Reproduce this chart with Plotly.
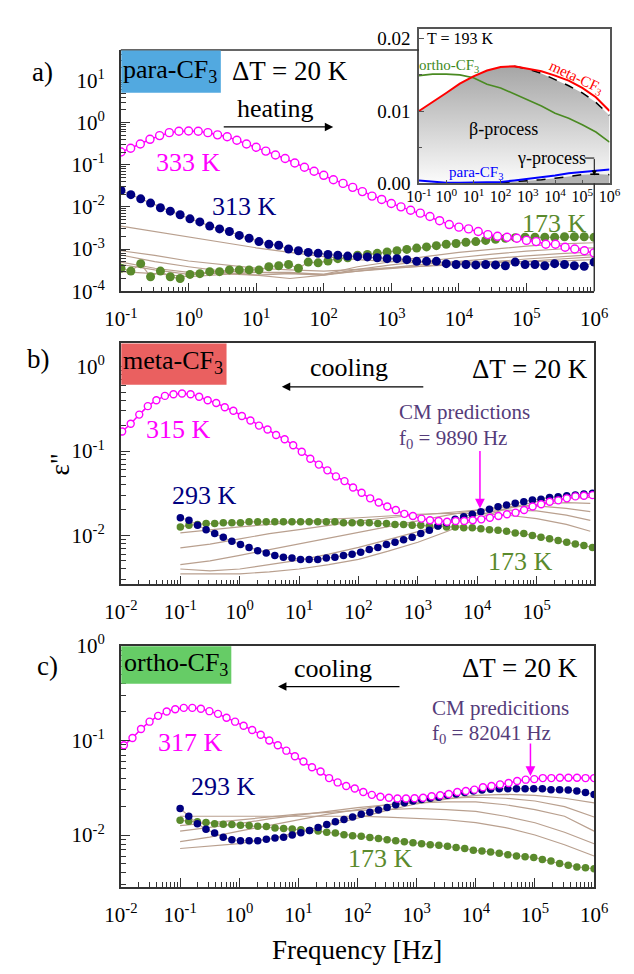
import numpy as np
import plotly.graph_objects as go

W, H = 634, 974
SERIF = "Liberation Serif"
AX = "#333333"
MAG = "#ff00ff"
NAVY = "#000080"
GRN = "#5a8a2c"
BRN = "#b9a08f"
PURP = "#553c7a"

def px(x):
    return x / W

def py(y):
    return 1 - y / H

# ---------------- data: panel a (para-CF3, heating) ----------------
f_a_333 = np.logspace(-1, 6, 50)
eps_a_333 = [0.20, 0.245, 0.31, 0.40, 0.49, 0.575, 0.62, 0.63, 0.62, 0.575,
             0.51, 0.46, 0.38, 0.31, 0.26, 0.21, 0.17, 0.14, 0.11, 0.087,
             0.070, 0.056, 0.044, 0.036, 0.029, 0.023, 0.018, 0.015, 0.012, 0.010,
             0.0083, 0.0071, 0.0059, 0.0047, 0.0038, 0.0033, 0.0030, 0.0026, 0.0022, 0.0020,
             0.0019, 0.0018, 0.0016, 0.0015, 0.0013, 0.0013, 0.0011, 0.0010, 0.00091, 0.00081]
f_a_pts = np.logspace(-1, 6, 49)
eps_a_313 = [0.0245, 0.0195, 0.0155, 0.0123, 0.0095, 0.0079, 0.0065, 0.0052, 0.0044, 0.0035,
             0.0030, 0.0026, 0.0021, 0.0018, 0.0015, 0.0013, 0.00123, 0.0010, 0.00091, 0.00083,
             0.00079, 0.00074, 0.00071, 0.00068, 0.00066, 0.00065, 0.00062, 0.00059, 0.00059, 0.00056,
             0.00051, 0.00051, 0.00051, 0.00045, 0.00043, 0.00043, 0.00042, 0.00043, 0.00042, 0.00040,
             0.00049, 0.00043, 0.00043, 0.00040, 0.00045, 0.00043, 0.00040, 0.00039, 0.00049]
eps_a_173 = [0.00035, 0.00030, 0.00045, 0.00022, 0.00030, 0.00022, 0.00020, 0.00025, 0.00026, 0.00029,
             0.00029, 0.00032, 0.00032, 0.00032, 0.00032, 0.00038, 0.00040, 0.00043, 0.00035, 0.00049,
             0.00047, 0.00052, 0.00059, 0.00062, 0.00071, 0.00074, 0.00079, 0.00085, 0.00091, 0.00098,
             0.00105, 0.00112, 0.0012, 0.0013, 0.00135, 0.00145, 0.0015, 0.0016, 0.0017, 0.0018,
             0.00186, 0.0019, 0.0019, 0.0019, 0.0019, 0.00195, 0.00195, 0.00195, 0.0019]
f_a_lines = [0.1, 0.316, 1, 3.16, 10, 31.6, 100, 316, 1e3, 3.16e3, 1e4, 3.16e4, 1e5, 3.16e5, 1e6]
eps_a_293 = [3.5e-3, 2.6e-3, 1.9e-3, 1.4e-3, 1.07e-3, 8.3e-4, 6.6e-4, 5.6e-4, 5.0e-4, 4.8e-4, 4.8e-4, 4.9e-4, 5.0e-4, 5.2e-4, 5.6e-4]
eps_a_273 = [9.1e-4, 7.1e-4, 5.2e-4, 4.2e-4, 3.5e-4, 3.2e-4, 3.0e-4, 3.3e-4, 3.6e-4, 4.0e-4, 4.3e-4, 4.7e-4, 5.1e-4, 5.8e-4, 6.5e-4]
eps_a_253 = [7.2e-4, 5.0e-4, 3.8e-4, 3.0e-4, 2.8e-4, 2.6e-4, 2.5e-4, 3.0e-4, 3.5e-4, 4.0e-4, 4.5e-4, 5.0e-4, 5.8e-4, 6.6e-4, 7.4e-4]
eps_a_233 = [4.9e-4, 3.5e-4, 2.8e-4, 2.6e-4, 2.4e-4, 2.0e-4, 2.4e-4, 3.0e-4, 3.7e-4, 4.4e-4, 5.1e-4, 6.0e-4, 6.9e-4, 7.8e-4, 8.5e-4]
eps_a_213 = [4.3e-4, 3.2e-4, 2.5e-4, 2.8e-4, 2.4e-4, 2.6e-4, 2.4e-4, 3.3e-4, 4.2e-4, 5.2e-4, 6.3e-4, 7.6e-4, 8.9e-4, 1.0e-3, 1.07e-3]
eps_a_193 = [2.9e-4, 2.6e-4, 2.2e-4, 2.5e-4, 2.8e-4, 2.8e-4, 2.5e-4, 3.8e-4, 5.0e-4, 6.6e-4, 8.3e-4, 1.0e-3, 1.17e-3, 1.32e-3, 1.41e-3]

# ---------------- data: panel b (meta-CF3, cooling) ----------------
f_b_315 = np.logspace(-1.98, 5.94, 56)
eps_b_315 = [0.17, 0.21, 0.27, 0.34, 0.40, 0.45, 0.47, 0.48, 0.47, 0.44,
             0.40, 0.37, 0.33, 0.30, 0.26, 0.23, 0.20, 0.18, 0.155, 0.138,
             0.117, 0.098, 0.081, 0.069, 0.059, 0.050, 0.044, 0.037, 0.032, 0.0275,
             0.0245, 0.022, 0.020, 0.018, 0.017, 0.0158, 0.0151, 0.0148, 0.0145, 0.0148,
             0.0148, 0.0151, 0.0155, 0.0162, 0.017, 0.0178, 0.0186, 0.020, 0.022, 0.0234,
             0.025, 0.026, 0.0275, 0.029, 0.0295, 0.030]
f_b_pts = np.logspace(-1, 5.94, 49)
eps_b_293 = [0.0162, 0.0151, 0.0132, 0.0117, 0.0105, 0.0095, 0.0085, 0.0078, 0.0072, 0.0066,
             0.0062, 0.0058, 0.0055, 0.0054, 0.0052, 0.0052, 0.0052, 0.0054, 0.0055, 0.0058,
             0.0060, 0.0063, 0.0068, 0.0072, 0.0078, 0.0083, 0.0089, 0.0095, 0.0105, 0.0115,
             0.0129, 0.0141, 0.0155, 0.0166, 0.0178, 0.0191, 0.0204, 0.0219, 0.0229, 0.024,
             0.025, 0.0263, 0.0269, 0.0282, 0.0288, 0.0295, 0.0302, 0.0309, 0.0316]
eps_b_173 = [0.0126, 0.0132, 0.0135, 0.0138, 0.0138, 0.0141, 0.0141, 0.0141, 0.0145, 0.0145,
             0.0145, 0.0145, 0.0145, 0.0145, 0.0145, 0.0145, 0.0145, 0.0145, 0.0145, 0.0141,
             0.0141, 0.0141, 0.0141, 0.0138, 0.0138, 0.0135, 0.0135, 0.0132, 0.0132, 0.0129,
             0.0129, 0.0126, 0.0126, 0.0123, 0.0123, 0.0120, 0.0117, 0.0115, 0.0112, 0.0107,
             0.0105, 0.0100, 0.0095, 0.0091, 0.0087, 0.0083, 0.0079, 0.0076, 0.0072]
f_b_lines = [0.1, 0.316, 1, 3.16, 10, 31.6, 100, 316, 1e3, 3.16e3, 1e4, 3.16e4, 1e5, 3.16e5, 8e5]
eps_b_193 = [0.0107, 0.0117, 0.0126, 0.0135, 0.0145, 0.0155, 0.0162, 0.0170, 0.0178, 0.0182, 0.0182, 0.0174, 0.0158, 0.0135, 0.0112]
eps_b_213 = [0.0071, 0.0079, 0.0091, 0.0105, 0.0117, 0.0132, 0.0148, 0.0162, 0.0174, 0.0186, 0.0200, 0.0200, 0.0195, 0.0174, 0.0151]
eps_b_233 = [0.0045, 0.0050, 0.0058, 0.0068, 0.0079, 0.0093, 0.0110, 0.0129, 0.0151, 0.0174, 0.0200, 0.0219, 0.0224, 0.0209, 0.0191]
eps_b_253 = [0.0040, 0.0038, 0.0040, 0.0045, 0.0051, 0.0060, 0.0072, 0.0089, 0.0110, 0.0138, 0.0174, 0.0209, 0.0234, 0.0245, 0.0240]
eps_b_273 = [0.0035, 0.0035, 0.0035, 0.0037, 0.0040, 0.0045, 0.0052, 0.0065, 0.0083, 0.0112, 0.0158, 0.0209, 0.0251, 0.0275, 0.0282]

# ---------------- data: panel c (ortho-CF3, cooling) ----------------
f_c_317 = np.logspace(-1.95, 6, 56)
eps_c_317 = [0.089, 0.106, 0.132, 0.158, 0.182, 0.202, 0.214, 0.221, 0.221, 0.216,
             0.204, 0.191, 0.174, 0.158, 0.143, 0.129, 0.115, 0.100, 0.089, 0.078,
             0.068, 0.060, 0.052, 0.047, 0.040, 0.036, 0.033, 0.031, 0.0285, 0.0266,
             0.0254, 0.0248, 0.0243, 0.0243, 0.0245, 0.0248, 0.0257, 0.0263, 0.0272, 0.0285,
             0.0292, 0.0302, 0.032, 0.033, 0.0343, 0.0355, 0.0372, 0.0385, 0.039, 0.040,
             0.040, 0.0403, 0.0403, 0.0403, 0.040, 0.040]
f_c_pts = np.logspace(-1, 6, 49)
eps_c_293 = [0.0191, 0.0158, 0.0132, 0.0115, 0.0105, 0.0095, 0.0089, 0.0087, 0.0087, 0.0087,
             0.0090, 0.0093, 0.0095, 0.0100, 0.0106, 0.0112, 0.0120, 0.0129, 0.0138, 0.0146,
             0.0155, 0.0166, 0.0174, 0.0184, 0.0195, 0.0209, 0.0219, 0.0229, 0.0237, 0.0245,
             0.0251, 0.0263, 0.0272, 0.0282, 0.0292, 0.0299, 0.0305, 0.0309, 0.0309, 0.0309,
             0.0309, 0.0309, 0.0309, 0.0302, 0.0302, 0.0299, 0.0292, 0.0282, 0.0269]
eps_c_173 = [0.0143, 0.0140, 0.0138, 0.0136, 0.0132, 0.0130, 0.0129, 0.0127, 0.0126, 0.0124,
             0.0123, 0.0119, 0.0117, 0.0116, 0.0114, 0.0112, 0.0110, 0.0107, 0.0105, 0.0101,
             0.0098, 0.0097, 0.0094, 0.0092, 0.0089, 0.0087, 0.0085, 0.0083, 0.0081, 0.0079,
             0.0078, 0.0076, 0.0074, 0.0072, 0.0069, 0.0068, 0.0066, 0.0064, 0.0062, 0.0060,
             0.0059, 0.0058, 0.0055, 0.0053, 0.0050, 0.0048, 0.0046, 0.0045, 0.0044]
f_c_lines = [0.1, 0.316, 1, 3.16, 10, 31.6, 100, 316, 1e3, 3.16e3, 1e4, 3.16e4, 1e5, 3.16e5, 1e6]
eps_c_193 = [0.0158, 0.0158, 0.0158, 0.0158, 0.0158, 0.0158, 0.0158, 0.0155, 0.0151, 0.0145, 0.0135, 0.0120, 0.0100, 0.0079, 0.0060]
eps_c_213 = [0.0126, 0.0135, 0.0145, 0.0155, 0.0166, 0.0174, 0.0182, 0.0186, 0.0191, 0.0186, 0.0178, 0.0158, 0.0135, 0.0107, 0.0081]
eps_c_233 = [0.0110, 0.0120, 0.0132, 0.0148, 0.0162, 0.0178, 0.0195, 0.0209, 0.0219, 0.0224, 0.0224, 0.0209, 0.0186, 0.0158, 0.0110]
eps_c_253 = [0.0085, 0.0095, 0.0110, 0.0126, 0.0145, 0.0166, 0.0186, 0.0209, 0.0229, 0.0245, 0.0251, 0.0245, 0.0229, 0.0200, 0.0155]
eps_c_273 = [0.0072, 0.0076, 0.0081, 0.0091, 0.0107, 0.0126, 0.0151, 0.0182, 0.0214, 0.0240, 0.0263, 0.0269, 0.0263, 0.0245, 0.0219]

# ---------------- data: inset (T = 193 K) ----------------
f_inset = [0.1, 0.316, 1, 3.16, 10, 31.6, 100, 316, 1e3, 3.16e3, 1e4, 3.16e4, 1e5, 3.16e5, 1e6]
inset_meta = [0.0100, 0.0112, 0.0125, 0.0138, 0.0148, 0.0156, 0.0161, 0.0162, 0.0159, 0.0155, 0.0149, 0.0142, 0.0132, 0.0119, 0.0100]
inset_ortho = [0.0149, 0.0151, 0.0151, 0.0150, 0.0146, 0.0137, 0.0132, 0.0124, 0.0115, 0.0107, 0.0097, 0.0090, 0.0081, 0.0071, 0.0057]
inset_para = [0.0004, 0.0002, 0.0001, 0.0001, 0.0001, 0.0002, 0.0002, 0.0004, 0.0006, 0.0008, 0.0011, 0.0014, 0.0016, 0.0018, 0.0019]
inset_beta = [0.0100, 0.0112, 0.0125, 0.0138, 0.0148, 0.0156, 0.0161, 0.0162, 0.0158, 0.0152, 0.0144, 0.0135, 0.0125, 0.0112, 0.0094]
f_gamma = [100, 316, 1e3, 3.16e3, 1e4, 3.16e4, 1e5, 3.16e5, 1e6]
inset_gamma = [0.0001, 0.0002, 0.0003, 0.0005, 0.0007, 0.0010, 0.0012, 0.0013, 0.0012]

fig = go.Figure()

def brown(x, y, xa, ya):
    fig.add_trace(go.Scatter(x=x, y=y, mode="lines", line=dict(color=BRN, width=1.2),
                             xaxis=xa, yaxis=ya, hoverinfo="skip"))

def dots(x, y, color, size, xa, ya):
    fig.add_trace(go.Scatter(x=x, y=y, mode="lines+markers", line=dict(color=BRN, width=1.2),
                             marker=dict(color=color, size=size, line=dict(width=0)),
                             xaxis=xa, yaxis=ya))

def rings(x, y, size, xa, ya):
    fig.add_trace(go.Scatter(x=x, y=y, mode="lines+markers", line=dict(color=MAG, width=1.5),
                             marker=dict(symbol="circle", color="white", size=size,
                                         line=dict(color=MAG, width=1.4)),
                             xaxis=xa, yaxis=ya))

# panel a
for e in [eps_a_193, eps_a_213, eps_a_233, eps_a_253, eps_a_273, eps_a_293]:
    brown(f_a_lines, e, "x", "y")
dots(f_a_pts, eps_a_173, GRN, 9, "x", "y")
dots(f_a_pts, eps_a_313, NAVY, 9, "x", "y")
rings(f_a_333, eps_a_333, 8, "x", "y")

# panel b
for e in [eps_b_193, eps_b_213, eps_b_233, eps_b_253, eps_b_273]:
    brown(f_b_lines, e, "x2", "y2")
dots(f_b_pts, eps_b_173, GRN, 7.5, "x2", "y2")
dots(f_b_pts, eps_b_293, NAVY, 7.5, "x2", "y2")
rings(f_b_315, eps_b_315, 7, "x2", "y2")

# panel c
for e in [eps_c_193, eps_c_213, eps_c_233, eps_c_253, eps_c_273]:
    brown(f_c_lines, e, "x3", "y3")
dots(f_c_pts, eps_c_173, GRN, 7.5, "x3", "y3")
dots(f_c_pts, eps_c_293, NAVY, 7.5, "x3", "y3")
rings(f_c_317, eps_c_317, 7, "x3", "y3")

# inset
fig.add_trace(go.Scatter(x=f_inset, y=inset_beta, mode="lines", line=dict(width=0),
                         fill="tozeroy",
                         fillgradient=dict(type="vertical", colorscale=[[0, "white"], [1, "#a6a6a6"]],
                                           start=0, stop=0.0162),
                         xaxis="x4", yaxis="y4", hoverinfo="skip"))
fig.add_trace(go.Scatter(x=f_gamma, y=inset_gamma, mode="lines", line=dict(color="black", width=1.5, dash="dash"),
                         fill="tozeroy", fillcolor="rgba(120,120,120,0.55)",
                         xaxis="x4", yaxis="y4", hoverinfo="skip"))
fig.add_trace(go.Scatter(x=f_inset[7:], y=inset_beta[7:], mode="lines",
                         line=dict(color="black", width=1.5, dash="dash"), xaxis="x4", yaxis="y4"))
fig.add_trace(go.Scatter(x=f_inset, y=inset_ortho, mode="lines", line=dict(color="#4a8a22", width=1.6),
                         xaxis="x4", yaxis="y4"))
fig.add_trace(go.Scatter(x=f_inset, y=inset_meta, mode="lines", line=dict(color="#ff0000", width=2),
                         xaxis="x4", yaxis="y4"))
fig.add_trace(go.Scatter(x=f_inset, y=inset_para, mode="lines", line=dict(color="#0000ff", width=2),
                         xaxis="x4", yaxis="y4"))


def log_ticks(lo, hi):
    vals = [10.0 ** k for k in range(lo, hi + 1)]
    text = [f"10<sup>{k}</sup>" for k in range(lo, hi + 1)]
    minor = [m * 10.0 ** k for k in range(lo - 1, hi + 1) for m in range(2, 10)]
    return vals, text, minor


def main_axis(lo, hi, rng, domain, anchor, mirror=True, standoff=6, size=21):
    vals, text, minor = log_ticks(lo, hi)
    return dict(type="log", range=rng, domain=domain, anchor=anchor, showline=True,
                linecolor=AX, linewidth=1.5, mirror=mirror, ticks="inside", ticklen=9,
                tickwidth=1.3, tickcolor=AX, tickmode="array", tickvals=vals, ticktext=text,
                tickfont=dict(family=SERIF, size=size, color="black"), showgrid=False,
                zeroline=False, ticklabelstandoff=standoff,
                minor=dict(tickmode="array", tickvals=minor, ticks="inside", ticklen=5,
                           tickwidth=1, tickcolor=AX, showgrid=False))


XD = [px(110), px(607)]
layout = dict(
    width=W, height=H, margin=dict(l=0, r=0, t=0, b=0, pad=0), autosize=False,
    paper_bgcolor="white", plot_bgcolor="white", showlegend=False,
    font=dict(family=SERIF),
    xaxis=main_axis(-1, 6, [-1.003, 6.003], XD, "y", mirror=False, standoff=8),
    yaxis=main_axis(-4, 1, [-4.005, 1.72], [py(285), py(37)], "x", mirror=False, standoff=10),
    xaxis2=main_axis(-2, 5, [-2.003, 5.97], XD, "y2", standoff=8),
    yaxis2=main_axis(-2, 0, [-2.58, 0.28], [py(586), py(338)], "x2", standoff=10),
    xaxis3=main_axis(-2, 6, [-2.003, 6.003], XD, "y3", standoff=8),
    yaxis3=main_axis(-2, 0, [-2.55, 0.002], [py(897), py(649)], "x3", standoff=10),
)
ivals, itext, _ = log_ticks(-1, 6)
layout["xaxis4"] = dict(type="log", range=[-1, 6], domain=[px(423), px(623)], anchor="y4",
                        showline=True, linecolor="#555", linewidth=1.5, mirror=True,
                        ticks="inside", ticklen=4, tickcolor="#555", tickmode="array",
                        tickvals=ivals, ticktext=itext, showgrid=False, zeroline=False,
                        tickfont=dict(family=SERIF, size=16, color="black"), ticklabelstandoff=-2)
layout["yaxis4"] = dict(range=[0, 0.0214], domain=[py(174), py(15)], anchor="x4",
                        showline=True, linecolor="#555", linewidth=1.5, mirror=True,
                        ticks="inside", ticklen=5, tickcolor="#555", tickmode="array",
                        tickvals=[0, 0.01, 0.02], ticktext=["0.00", "0.01", "0.02"],
                        showgrid=False, zeroline=False, ticklabelstandoff=3,
                        tickfont=dict(family=SERIF, size=19, color="black"),
                        minor=dict(tickmode="array", tickvals=[0.005, 0.015], ticks="inside",
                                   ticklen=3, tickcolor="#555"))
fig.update_layout(**layout)

shapes = [
    # panel a frame parts not hidden by the inset
    dict(type="line", xref="paper", yref="paper", x0=px(110), x1=px(423), y0=py(37), y1=py(37),
         line=dict(color=AX, width=1.5)),
    dict(type="line", xref="paper", yref="paper", x0=px(607), x1=px(607), y0=py(174), y1=py(285),
         line=dict(color=AX, width=1.5)),
    # sample name boxes
    dict(type="rect", xref="paper", yref="paper", x0=px(110.5), x1=px(215), y0=py(81), y1=py(37.5),
         fillcolor="#52a9e0", line=dict(width=0), layer="above"),
    dict(type="rect", xref="paper", yref="paper", x0=px(110.5), x1=px(221), y0=py(381), y1=py(338.5),
         fillcolor="#ea6060", line=dict(width=0), layer="above"),
    dict(type="rect", xref="paper", yref="paper", x0=px(110.5), x1=px(226), y0=py(688), y1=py(649.5),
         fillcolor="#66cc66", line=dict(width=0), layer="above"),
    # gamma-process pointer
    dict(type="line", xref="paper", yref="paper", x0=px(597), x1=px(607), y0=py(148), y1=py(148),
         line=dict(color="black", width=1)),
]
fig.update_layout(shapes=shapes)


def txt(x, y, s, size=26, color="black", xanchor="center", angle=0):
    return dict(x=px(x), y=py(y), xref="paper", yref="paper", text=s, showarrow=False,
                font=dict(family=SERIF, size=size, color=color), xanchor=xanchor,
                yanchor="middle", textangle=angle)


def arrow(x0, y0, x1, y1, color="black", width=1.3, size=1.3):
    return dict(x=px(x1), y=py(y1), xref="paper", yref="paper", ax=x0 - x1, ay=y0 - y1,
                text="", showarrow=True, arrowhead=2, arrowsize=size, arrowwidth=width,
                arrowcolor=color)


ann = [
    # panel a
    txt(28, 60, "a)", 27),
    txt(162, 59, "para-CF<sub>3</sub>", 26),
    txt(288, 59, "ΔT = 20 K", 27),
    txt(272, 97, "heating", 26),
    arrow(222, 116, 333, 116),
    txt(181, 153, "333 K", 26, MAG),
    txt(240, 198, "313 K", 26, NAVY),
    txt(565, 215, "173 K", 26, GRN),
    # inset
    txt(467, 25, "T = 193 K", 16),
    txt(455, 53, "ortho-CF<sub>3</sub>", 15, "#3f8a1c"),
    txt(588, 66, "meta-CF<sub>3</sub>", 15, "#ff0000", angle=25),
    txt(512, 118, "β-process", 18),
    txt(562, 148, "γ-process", 18),
    txt(483, 163, "para-CF<sub>3</sub>", 15, "#0000ff"),
    arrow(607, 148, 607, 166, width=1, size=1),
    # panel b
    txt(24, 354, "b)", 27),
    txt(165, 358, "meta-CF<sub>3</sub>", 26),
    txt(350, 363, "cooling", 26),
    arrow(422, 383, 279, 383),
    txt(540, 365, "ΔT = 20 K", 27),
    txt(400, 409, "CM predictions", 21, PURP, "left"),
    txt(400, 437, "f<sub>0</sub> = 9890 Hz", 21, PURP, "left"),
    arrow(487, 449, 487, 508, MAG, 1.5, 1.3),
    txt(171, 427, "315 K", 26, MAG),
    txt(198, 495, "293 K", 26, NAVY),
    txt(530, 563, "173 K", 26, GRN),
    txt(46, 463, "ε\"", 27, angle=-90),
    # panel c
    txt(33, 670, "c)", 27),
    txt(168, 668, "ortho-CF<sub>3</sub>", 26),
    txt(333, 672, "cooling", 26),
    arrow(398, 691, 275, 691),
    txt(529, 672, "ΔT = 20 K", 27),
    txt(435, 713, "CM predicitions", 21, PURP, "left"),
    txt(435, 740, "f<sub>0</sub> = 82041 Hz", 21, PURP, "left"),
    arrow(540, 749, 540, 783, MAG, 1.5, 1.3),
    txt(183, 748, "317 K", 26, MAG),
    txt(218, 794, "293 K", 26, NAVY),
    txt(383, 868, "173 K", 26, GRN),
    txt(358, 962, "Frequency [Hz]", 27),
]
fig.update_layout(annotations=ann)

fig.write_html("out.html", config={"displayModeBar": False},
               post_script="document.body.style.margin='0px';document.body.style.overflow='hidden';")
